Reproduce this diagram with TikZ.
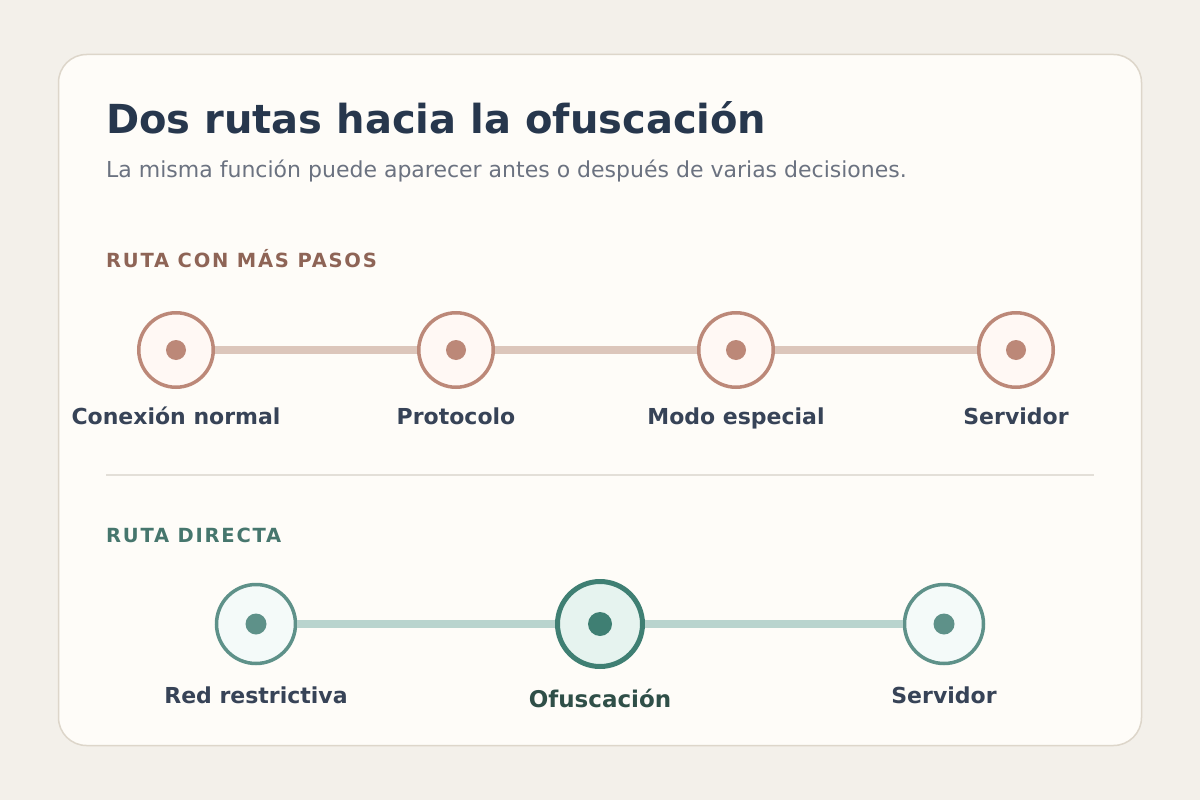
\documentclass[tikz,border=0pt]{standalone}
\usepackage{fontspec}
\setmainfont{DejaVu Sans}
\newfontfamily\secfont[LetterSpace=9]{DejaVu Sans Bold}
\definecolor{bgc}{HTML}{F3F0EA}
\definecolor{cardfill}{HTML}{FEFCF8}
\definecolor{cardline}{HTML}{DDD6CA}
\definecolor{titlec}{HTML}{27374D}
\definecolor{subc}{HTML}{6B7280}
\definecolor{brownlab}{HTML}{8E6456}
\definecolor{tealLab}{HTML}{46766D}
\definecolor{labc}{HTML}{374357}
\definecolor{rose}{HTML}{BC8878}
\definecolor{rosefill}{HTML}{FFF8F4}
\definecolor{roseline}{HTML}{DCC6BB}
\definecolor{teal}{HTML}{5E9189}
\definecolor{tealfill}{HTML}{F4FAF9}
\definecolor{tealdark}{HTML}{3F7F73}
\definecolor{tealdarkfill}{HTML}{E6F3EF}
\definecolor{tealline}{HTML}{B9D4CE}
\definecolor{ofuc}{HTML}{2F4F48}
\definecolor{sepc}{HTML}{E3DFD8}
\begin{document}
\begin{tikzpicture}[x=1pt,y=-1pt,
  rosenode/.style={circle,draw=rose,line width=3.5pt,fill=rosefill,minimum size=74.5pt,inner sep=0pt},
  rosedot/.style={circle,fill=rose,minimum size=20pt,inner sep=0pt},
  tealnode/.style={circle,draw=teal,line width=3.5pt,fill=tealfill,minimum size=79pt,inner sep=0pt},
  tealdot/.style={circle,fill=teal,minimum size=21pt,inner sep=0pt},
  bignode/.style={circle,draw=tealdark,line width=5pt,fill=tealdarkfill,minimum size=85pt,inner sep=0pt},
  bigdot/.style={circle,fill=tealdark,minimum size=24pt,inner sep=0pt},
  roseconn/.style={draw=roseline,line width=8pt},
  tealconn/.style={draw=tealline,line width=8pt},
  lab/.style={anchor=base,font=\bfseries\fontsize{22}{26}\selectfont,text=labc,inner sep=0pt},
  sec/.style={anchor=base west,inner sep=0pt,font=\secfont\fontsize{19.5}{23}\selectfont}
]
\fill[bgc] (0,0) rectangle (1200,800);
\useasboundingbox (0,0) rectangle (1200,800);
\draw[cardline,fill=cardfill,line width=1.5pt,rounded corners=28pt] (58.5,54.5) rectangle (1141.5,745.5);

\node[anchor=base west,inner sep=0pt,font=\bfseries\fontsize{40}{48}\selectfont,text=titlec] (title) at (106,133) {Dos rutas hacia la ofuscación};
\node[anchor=base west,inner sep=0pt,font=\fontsize{22}{26}\selectfont,text=subc] (sub) at (106,177.5) {La misma función puede aparecer antes o después de varias decisiones.};

\node[sec,text=brownlab] (sec1) at (106,267) {RUTA CON MÁS PASOS};

\node[rosenode] (a1) at (176,350) {};
\node[rosenode] (a2) at (456,350) {};
\node[rosenode] (a3) at (736,350) {};
\node[rosenode] (a4) at (1016,350) {};
\path[roseconn] (a1) -- (a2) (a2) -- (a3) (a3) -- (a4);
\node[rosedot] (d1) at (a1) {};
\node[rosedot] (d2) at (a2) {};
\node[rosedot] (d3) at (a3) {};
\node[rosedot] (d4) at (a4) {};

\node[lab] (l1) at (176,424) {Conexión normal};
\node[lab] (l2) at (456,424) {Protocolo};
\node[lab] (l3) at (736,424) {Modo especial};
\node[lab] (l4) at (1016,424) {Servidor};

\draw[sepc,line width=1.5pt] (106,475) -- (1094,475);

\node[sec,text=tealLab] (sec2) at (106,542) {RUTA DIRECTA};

\node[tealnode] (b1) at (256,624) {};
\node[bignode] (b2) at (600,624) {};
\node[tealnode] (b3) at (944,624) {};
\path[tealconn] (b1) -- (b2) (b2) -- (b3);
\node[tealdot] (e1) at (b1) {};
\node[bigdot] (e2) at (b2) {};
\node[tealdot] (e3) at (b3) {};

\node[lab] (m1) at (256,703) {Red restrictiva};
\node[lab,text=ofuc,font=\bfseries\fontsize{23}{27}\selectfont] (m2) at (600,707) {Ofuscación};
\node[lab] (m3) at (944,703) {Servidor};
\end{tikzpicture}
\end{document}
